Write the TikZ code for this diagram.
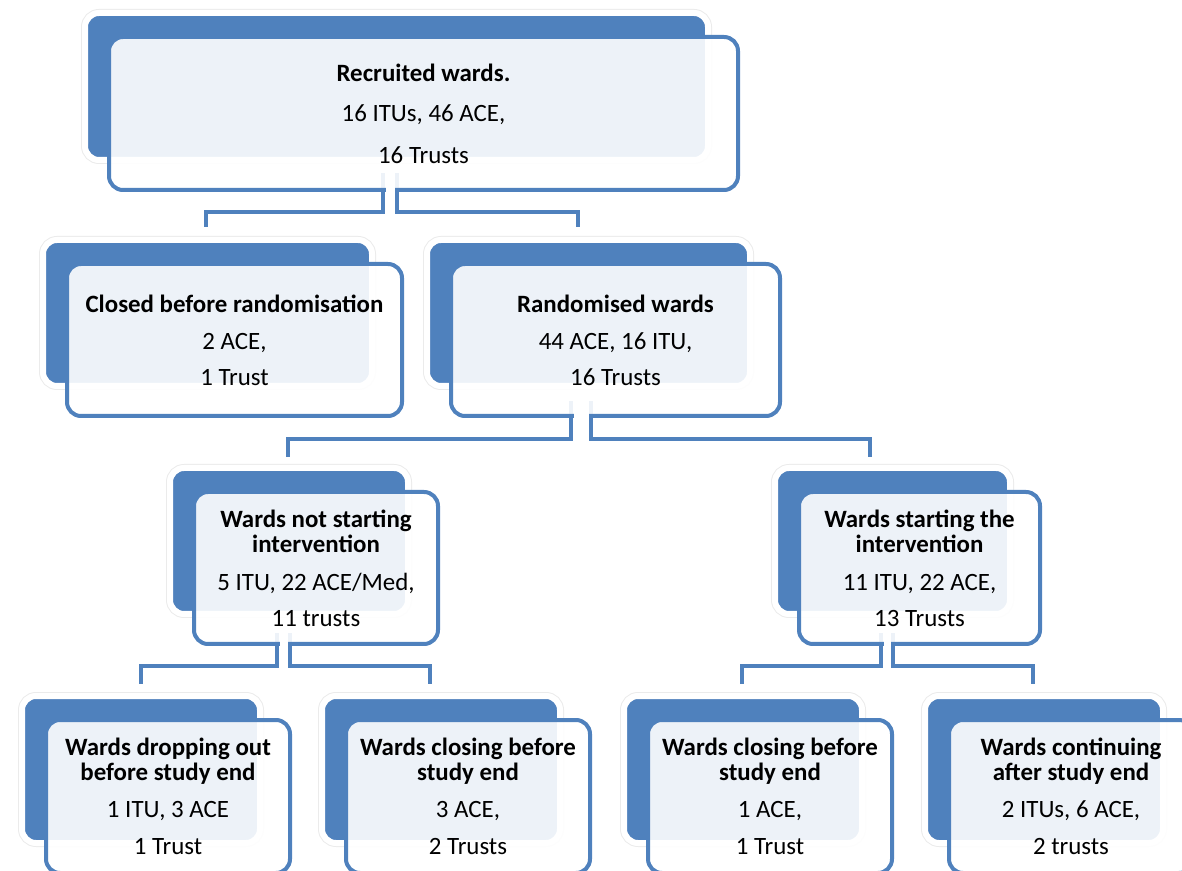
\documentclass[tikz,border=0pt]{standalone}
\usepackage{fontspec}
\setmainfont{Carlito}
\definecolor{wardblue}{HTML}{4F81BD}
\tikzset{
  backbox/.style={fill=wardblue, draw=white, line width=6pt, rounded corners=14pt,
    preaction={draw=black!8, line width=8pt}},
  frontbox/.style={draw=wardblue, line width=4pt, fill=white, fill opacity=0.9,
    text opacity=1, rounded corners=14pt, align=center, inner sep=0pt,
    font=\fontsize{24.9}{25}\selectfont},
  link/.style={draw=wardblue, line width=4.5pt},
  gap/.style={draw=white, line width=#1},
}
\begin{document}
\begin{tikzpicture}[x=1pt,y=1pt]
\useasboundingbox (0,0) rectangle (1182,870);

% back plates
\node[backbox, minimum width=623pt, minimum height=147pt] (recb) at (396.5,783.5) {};
\node[backbox, minimum width=329pt, minimum height=146pt] (closedb) at (207.5,557) {};
\node[backbox, minimum width=323pt, minimum height=146pt] (randb) at (588.5,557) {};
\node[backbox, minimum width=238pt, minimum height=146pt] (nostartb) at (289,329) {};
\node[backbox, minimum width=235pt, minimum height=146pt] (startb) at (892.5,329) {};
\node[backbox, minimum width=238pt, minimum height=147pt] (dropb) at (141,100.5) {};
\node[backbox, minimum width=238pt, minimum height=147pt] (closeAb) at (441,100.5) {};
\node[backbox, minimum width=238pt, minimum height=147pt] (closeBb) at (743,100.5) {};
\node[backbox, minimum width=238pt, minimum height=147pt] (contb) at (1044,100.5) {};

% connectors
\draw[link] ([xshift=-13.5pt,yshift=-10pt]recb.south) -- ++(0,-39) -| ([xshift=-1.5pt,yshift=10pt]closedb.north);
\draw[link] ([xshift=0.5pt,yshift=-10pt]recb.south) -- ++(0,-39) -| ([xshift=-10.5pt,yshift=10pt]randb.north);
\draw[link] ([xshift=-17.5pt,yshift=-12pt]randb.south) -- ++(0,-38) -| ([xshift=-1pt,yshift=8pt]nostartb.north);
\draw[link] ([xshift=2.5pt,yshift=-12pt]randb.south) -- ++(0,-38) -| ([xshift=-22.5pt,yshift=8pt]startb.north);
\draw[link] ([xshift=-12pt,yshift=-16pt]nostartb.south) -- ++(0,-33) -| ([yshift=9pt]dropb.north);
\draw[link] ([xshift=1pt,yshift=-16pt]nostartb.south) -- ++(0,-33) -| ([xshift=-11pt,yshift=9pt]closeAb.north);
\draw[link] ([xshift=-11.5pt,yshift=-16pt]startb.south) -- ++(0,-33) -| ([xshift=-1pt,yshift=9pt]closeBb.north);
\draw[link] ([xshift=0.5pt,yshift=-16pt]startb.south) -- ++(0,-33) -| ([xshift=-11pt,yshift=9pt]contb.north);

% front boxes
\node[frontbox, minimum width=629pt, minimum height=153pt] (rec) at ([shift={(27,-27)}]recb.center)
  {\textbf{Recruited wards.}\\[15pt]16 ITUs, 46 ACE,\\[17pt]16 Trusts};
\node[frontbox, minimum width=335pt, minimum height=152pt] (closed) at ([shift={(27,-27)}]closedb.center)
  {\textbf{Closed before randomisation}\\[12pt]2 ACE,\\[11pt]1 Trust};
\node[frontbox, minimum width=329pt, minimum height=152pt] (rand) at ([shift={(27,-27)}]randb.center)
  {\textbf{Randomised wards}\\[12pt]44 ACE, 16 ITU,\\[11pt]16 Trusts};
\node[frontbox, minimum width=244pt, minimum height=152pt] (nostart) at ([shift={(27,-27)}]nostartb.center)
  {\textbf{Wards not starting}\\\textbf{intervention}\\[13pt]5 ITU, 22 ACE/Med,\\[11pt]11 trusts};
\node[frontbox, minimum width=241pt, minimum height=152pt] (start) at ([shift={(27,-27)}]startb.center)
  {\textbf{Wards starting the}\\\textbf{intervention}\\[13pt]11 ITU, 22 ACE,\\[11pt]13 Trusts};
\node[frontbox, minimum width=244pt, minimum height=153pt] (drop) at ([shift={(27,-27)}]dropb.center)
  {\textbf{Wards dropping out}\\\textbf{before study end}\\[12pt]1 ITU, 3 ACE\\[12pt]1 Trust};
\node[frontbox, minimum width=244pt, minimum height=153pt] (closeA) at ([shift={(27,-27)}]closeAb.center)
  {\textbf{Wards closing before}\\\textbf{study end}\\[12pt]3 ACE,\\[12pt]2 Trusts};
\node[frontbox, minimum width=244pt, minimum height=153pt] (closeB) at ([shift={(27,-27)}]closeBb.center)
  {\textbf{Wards closing before}\\\textbf{study end}\\[12pt]1 ACE,\\[12pt]1 Trust};
\node[frontbox, minimum width=244pt, minimum height=153pt] (cont) at ([shift={(27,-27)}]contb.center)
  {\textbf{Wards continuing}\\\textbf{after study end}\\[12pt]2 ITUs, 6 ACE,\\[12pt]2 trusts};

% white split between the paired lines
\draw[gap=9pt] ([xshift=-6.5pt,yshift=-10pt]recb.south) -- ++(0,-39);
\draw[gap=15pt] ([xshift=-7.5pt,yshift=-12pt]randb.south) -- ++(0,-38);
\draw[gap=8pt] ([xshift=-5.5pt,yshift=-16pt]nostartb.south) -- ++(0,-33);
\draw[gap=7pt] ([xshift=-5.5pt,yshift=-16pt]startb.south) -- ++(0,-33);
\end{tikzpicture}
\end{document}
